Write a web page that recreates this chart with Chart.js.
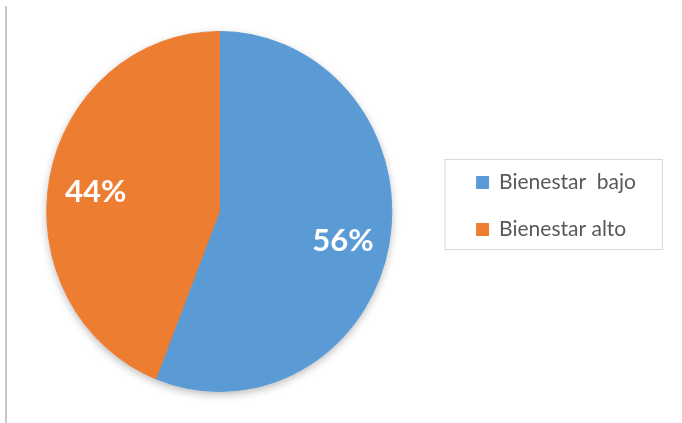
<!DOCTYPE html>
<html>
<head>
<meta charset="utf-8">
<script src="https://cdn.jsdelivr.net/npm/chart.js@4.4.1/dist/chart.umd.min.js"></script>
<style>
    body { margin: 0; background: #fff; }
</style>
</head>
<body>
<canvas id="myChart" width="682" height="423"></canvas>
<script>
const labels = ["Bienestar  bajo", "Bienestar alto"];
const percents = [56, 44];
const colors = ["#5b9bd5", "#ed7d31"];

// the pie is printed a little taller than wide, and sits a bit off the area centre
const stretchY = 1.043;
const shiftX = -6;
const shiftY = 5.5;

function mapPoint(arc, x, y) {
    return {
        x: x + shiftX,
        y: arc.y + shiftY + (y - arc.y) * stretchY
    };
}

const piePlugin = {
    id: "pieLook",
    beforeDraw(chart) {
        // grey rule on the left side
        const ctx = chart.ctx;
        ctx.save();
        ctx.strokeStyle = "#c8c8c8";
        ctx.lineWidth = 2;
        ctx.beginPath();
        ctx.moveTo(6, 6);
        ctx.lineTo(6, chart.height);
        ctx.stroke();
        ctx.restore();
    },
    beforeDatasetsDraw(chart) {
        const ctx = chart.ctx;
        const arc = chart.getDatasetMeta(0).data[0];
        const cx = arc.x;
        const cy = arc.y;
        ctx.save();
        ctx.translate(cx + shiftX, cy + shiftY);
        ctx.scale(1, stretchY);
        ctx.translate(-cx, -cy);

        // soft shadow under the whole pie
        ctx.save();
        ctx.shadowColor = "rgba(0,0,0,0.28)";
        ctx.shadowBlur = 9;
        ctx.shadowOffsetY = 3;
        ctx.fillStyle = "#ffffff";
        ctx.beginPath();
        ctx.arc(cx, cy, arc.outerRadius, 0, Math.PI * 2);
        ctx.fill();
        ctx.restore();
    },
    afterDatasetsDraw(chart) {
        const ctx = chart.ctx;
        ctx.restore();

        const total = percents.reduce((a, b) => a + b, 0);
        ctx.save();
        ctx.fillStyle = "#ffffff";
        ctx.font = "bold 31px Lato";
        ctx.textAlign = "center";
        ctx.textBaseline = "middle";
        chart.getDatasetMeta(0).data.forEach((arc, i) => {
            const mid = (arc.startAngle + arc.endAngle) / 2;
            const d = arc.outerRadius * 0.73;
            const p = mapPoint(arc, arc.x + Math.cos(mid) * d, arc.y + Math.sin(mid) * d);
            ctx.fillText(Math.round(percents[i] / total * 100) + "%", p.x, p.y + 5);
        });
        ctx.restore();
    },
    afterDraw(chart) {
        // frame around the legend
        const boxes = chart.legend.legendHitBoxes;
        if (!boxes || !boxes.length) return;
        const first = boxes[0];
        const last = boxes[boxes.length - 1];
        const right = Math.max(...boxes.map(b => b.left + b.width));
        const ctx = chart.ctx;
        ctx.save();
        ctx.strokeStyle = "#d9d9d9";
        ctx.lineWidth = 1;
        ctx.strokeRect(first.left - 32 + 0.5, first.top - 13 + 0.5,
            right + 26 - (first.left - 32), last.top + last.height + 9 - (first.top - 13));
        ctx.restore();
    }
};

window.onload = () => {
    Chart.defaults.font.family = "Lato";

    const data = {
        labels: labels,
        datasets: [{
            data: percents,
            backgroundColor: colors,
            borderColor: colors,
            borderWidth: 1
        }]
    };

    const config = {
        type: "pie",
        data: data,
        options: {
            responsive: false,
            animation: false,
            devicePixelRatio: 1,
            layout: {
                padding: { left: 0, right: 36, top: 33, bottom: 44 }
            },
            plugins: {
                tooltip: { enabled: false },
                legend: {
                    position: "right",
                    labels: {
                        boxWidth: 12,
                        boxHeight: 12,
                        padding: 26,
                        color: "#595959",
                        font: { size: 21 }
                    }
                }
            }
        },
        plugins: [piePlugin]
    };

    const ctx = document.getElementById("myChart").getContext("2d");
    new Chart(ctx, config);
};
</script>
</body>
</html>
